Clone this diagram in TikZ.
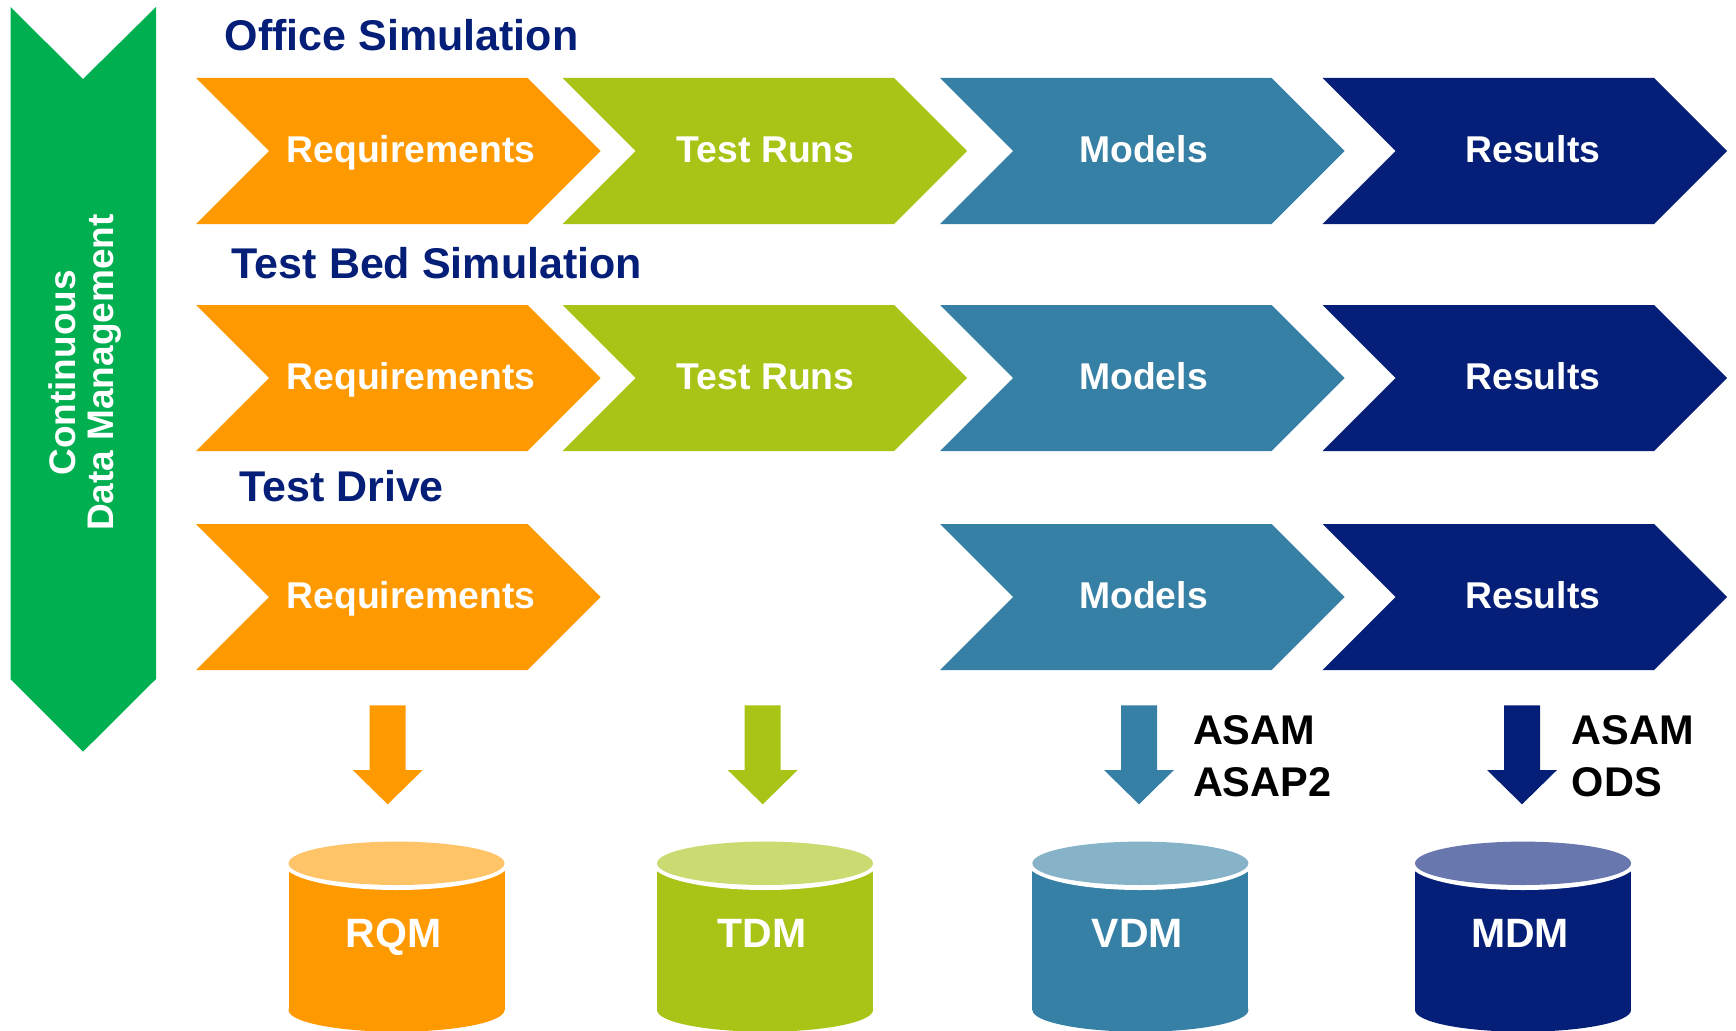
\documentclass[tikz,border=0pt]{standalone}
\usepackage{fontspec}
\setmainfont{Liberation Sans}

\definecolor{cOrange}{HTML}{FF9900}
\definecolor{cLime}{HTML}{A9C316}
\definecolor{cTeal}{HTML}{367FA5}
\definecolor{cNavy}{HTML}{051F78}
\definecolor{cGreen}{HTML}{00AF50}
\definecolor{cOrangeL}{HTML}{FFC467}
\definecolor{cLimeL}{HTML}{CCDA72}
\definecolor{cTealL}{HTML}{87B3C9}
\definecolor{cNavyL}{HTML}{6977AF}

% process chevron: left x, top y, colour
\newcommand\chevshape[3]{%
  \fill[#3] (#1,#2) -- ++(331.5,0) -- ++(73,73) -- ++(-73,73) -- ++(-331.5,0) -- ++(73,-73) -- cycle;}

% block arrow pointing down: centre x, colour
\newcommand\dnarrow[2]{%
  \fill[#2] (#1-18,705.3) -- (#1+18,705.3) -- (#1+18,770) -- (#1+35,770)
    -- (#1,804.3) -- (#1-35,770) -- (#1-18,770) -- cycle;}

% database cylinder: centre x, body colour, lid colour, label, node name
\newcommand\dbcyl[5]{%
  \fill[#2] (#1-108,863.3) rectangle (#1+108,1010);
  \fill[#2] (#1,1010) ellipse [x radius=108pt, y radius=21.7pt];
  \fill[white] (#1,863.3) ellipse [x radius=113pt, y radius=26.7pt];
  \fill[#3] (#1,863.3) ellipse [x radius=108pt, y radius=21.7pt];
  \node[dblabel] (#5) at (#1-3,947.7) {#4};}

\begin{document}
\begin{tikzpicture}[x=1pt,y=-1pt,
  chevlabel/.style={text=white,font=\bfseries\fontsize{37.3}{44}\selectfont,anchor=base,inner sep=0pt},
  rowtitle/.style={text=cNavy,font=\bfseries\fontsize{43}{50}\selectfont,anchor=base west,inner sep=0pt},
  sidelabel/.style={text=white,font=\bfseries\fontsize{37}{44}\selectfont,anchor=base,inner sep=0pt,rotate=90},
  stdlabel/.style={text=black,font=\bfseries\fontsize{41.5}{52}\selectfont,anchor=base west,inner sep=0pt},
  dblabel/.style={text=white,font=\bfseries\fontsize{41}{50}\selectfont,anchor=base,inner sep=0pt}]

\useasboundingbox (0,0) rectangle (1736,1030);
\clip (0,0) rectangle (1736,1030);

% continuous data management band
\fill[cGreen] (10.5,7) -- (83,79) -- (156,7) -- (156,679) -- (83,751.7) -- (10.5,679) -- cycle;
\node[sidelabel] (cont) at (75.3,372.8) {Continuous};
\node[sidelabel] (datamgmt) at (113.3,372.5) {Data Management};

% row titles
\node[rowtitle] (office) at (224.6,50.7) {Office Simulation};
\node[rowtitle] (testbed) at (231.7,278.3) {Test Bed Simulation};
\node[rowtitle] (drive) at (239,501) {Test Drive};

% row 1: office simulation
\chevshape{196}{78}{cOrange}
\chevshape{562.7}{78}{cLime}
\chevshape{940}{78}{cTeal}
\chevshape{1322.7}{78}{cNavy}
\node[chevlabel] (req1) at (411,162.3) {Requirements};
\node[chevlabel] (run1) at (765.7,162.3) {Test Runs};
\node[chevlabel] (mod1) at (1143.5,162.3) {Models};
\node[chevlabel] (res1) at (1532.8,162.3) {Results};

% row 2: test bed simulation
\chevshape{196}{305}{cOrange}
\chevshape{562.7}{305}{cLime}
\chevshape{940}{305}{cTeal}
\chevshape{1322.7}{305}{cNavy}
\node[chevlabel] (req2) at (411,389.3) {Requirements};
\node[chevlabel] (run2) at (765.7,389.3) {Test Runs};
\node[chevlabel] (mod2) at (1143.5,389.3) {Models};
\node[chevlabel] (res2) at (1532.8,389.3) {Results};

% row 3: test drive
\chevshape{196}{524}{cOrange}
\chevshape{940}{524}{cTeal}
\chevshape{1322.7}{524}{cNavy}
\node[chevlabel] (req3) at (411,608.3) {Requirements};
\node[chevlabel] (mod3) at (1143.5,608.3) {Models};
\node[chevlabel] (res3) at (1532.8,608.3) {Results};

% transfer arrows
\dnarrow{387.7}{cOrange}
\dnarrow{762.7}{cLime}
\dnarrow{1139}{cTeal}
\dnarrow{1522}{cNavy}
\node[stdlabel] (asam1) at (1192.8,744.3) {ASAM};
\node[stdlabel] (asap2) at (1192.8,796) {ASAP2};
\node[stdlabel] (asam2) at (1571.7,744.3) {ASAM};
\node[stdlabel] (ods) at (1571.7,796) {ODS};

% data stores
\dbcyl{396.5}{cOrange}{cOrangeL}{RQM}{rqm}
\dbcyl{765}{cLime}{cLimeL}{TDM}{tdm}
\dbcyl{1140.4}{cTeal}{cTealL}{VDM}{vdm}
\dbcyl{1523}{cNavy}{cNavyL}{MDM}{mdm}
\end{tikzpicture}
\end{document}
